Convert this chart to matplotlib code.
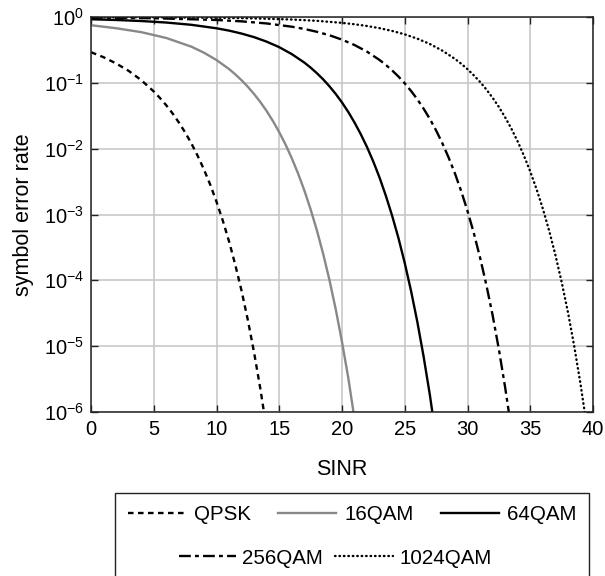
import matplotlib
matplotlib.use("Agg")
import matplotlib.pyplot as plt
from matplotlib.patches import Rectangle
from matplotlib.ticker import NullLocator, FixedLocator

plt.rcParams['font.family'] = ['Liberation Sans', 'DejaVu Sans']
plt.rcParams['mathtext.fontset'] = 'custom'
plt.rcParams['mathtext.rm'] = 'Liberation Sans'
plt.rcParams['mathtext.default'] = 'regular'
plt.rcParams['lines.scale_dashes'] = False

# ---- data ----
qpsk_x = [0, 1, 2, 3, 4, 5, 5.5, 6, 6.5, 7, 7.5, 8, 8.5, 9, 9.5, 10, 10.5, 11,
          11.5, 12, 12.5, 13, 13.5, 14]
qpsk_y = [0.292, 0.245, 0.197, 0.152, 0.110, 0.074, 0.0587, 0.0455, 0.0343,
          0.0250, 0.01766, 0.0120, 0.00778, 0.00483, 0.00284, 1.56e-3, 8.1e-4,
          3.9e-4, 1.71e-4, 6.9e-5, 2.48e-5, 7.9e-6, 2.22e-6, 5.4e-7]

qam16_x = [0, 2, 4, 6, 8, 9, 10, 11, 11.5, 12, 12.5, 13, 13.5, 14, 14.5, 15,
           15.5, 16, 16.5, 17, 17.5, 18, 18.5, 19, 19.5, 20, 20.5, 21]
qam16_y = [0.75, 0.675, 0.589, 0.480, 0.354, 0.287, 0.222, 0.162, 0.1344,
           0.1094, 0.0870, 0.0674, 0.0509, 0.0372, 0.0262, 0.01778, 0.01155,
           0.00715, 0.0042, 2.32e-3, 1.196e-3, 5.73e-4, 2.52e-4, 1.01e-4,
           3.64e-5, 1.16e-5, 3.3e-6, 7.8e-7]

qam64_x = [0, 2, 4, 6, 8, 10, 11, 12, 13, 14, 15, 16, 17, 17.5, 18, 18.5, 19,
           19.5, 20, 20.5, 21, 21.5, 22, 22.5, 23, 23.5, 24, 24.5, 25, 25.5, 26,
           26.5, 27, 27.5, 28]
qam64_y = [0.924, 0.901, 0.869, 0.824, 0.761, 0.674, 0.621, 0.560, 0.494,
           0.422, 0.348, 0.273, 0.203, 0.1703, 0.140, 0.1129, 0.0886, 0.0678,
           0.0503, 0.0361, 0.0249, 0.01653, 0.01051, 0.00633, 3.6e-3, 1.91e-3,
           9.5e-4, 4.37e-4, 1.83e-4, 6.93e-5, 2.35e-5, 7.0e-6, 1.82e-6, 4.0e-7,
           7.3e-8]

qam256_x = [0, 5, 10, 12, 14, 16, 17, 18, 19, 20, 21, 22, 23, 23.5, 24, 24.5,
            25, 25.5, 26, 26.5, 27, 27.5, 28, 28.5, 29, 29.5, 30, 30.5, 31,
            31.5, 32, 32.5, 33, 33.5, 34]
qam256_y = [0.980, 0.958, 0.901, 0.859, 0.798, 0.712, 0.658, 0.596, 0.528,
            0.453, 0.375, 0.297, 0.222, 0.1866, 0.154, 0.1245, 0.0983, 0.0754,
            0.0563, 0.0406, 0.0283, 0.0189, 0.01203, 0.0073, 4.2e-3, 2.256e-3,
            1.13e-3, 5.25e-4, 2.22e-4, 8.55e-5, 2.96e-5, 8.96e-6, 2.36e-6,
            5.4e-7, 1.0e-7]

qam1024_x = [0, 5, 10, 13, 16, 18, 20, 21, 22, 23, 24, 25, 26, 27, 28, 29,
             29.5, 30, 30.5, 31, 31.5, 32, 32.5, 33, 33.5, 34, 34.5, 35, 35.5,
             36, 36.5, 37, 37.5, 38, 38.5, 39, 39.5, 40]
qam1024_y = [0.995, 0.99, 0.973, 0.953, 0.916, 0.875, 0.815, 0.776, 0.730,
             0.676, 0.614, 0.545, 0.469, 0.389, 0.308, 0.231, 0.1948, 0.161,
             0.1302, 0.1031, 0.0794, 0.0593, 0.0430, 0.0299, 0.02006, 0.01284,
             0.0078, 4.5e-3, 2.43e-3, 1.23e-3, 5.74e-4, 2.44e-4, 9.46e-5,
             3.3e-5, 1.01e-5, 2.7e-6, 6.2e-7, 1.2e-7]

labels = ['QPSK', '16QAM', '64QAM', '256QAM', '1024QAM']
x_ticks = [0, 5, 10, 15, 20, 25, 30, 35, 40]
y_ticks = [1e-6, 1e-5, 1e-4, 1e-3, 1e-2, 1e-1, 1e0]

fig = plt.figure(figsize=(6.05, 5.76), dpi=100)
ax = fig.add_axes([91/605, 1 - 412/576, (593 - 91)/605, (412 - 17)/576])

fs_tick = 14.5
fs_lab = 15.5
fs_leg = 14.8
lw = 1.7
l1, = ax.semilogy(qpsk_x, qpsk_y, color='black', lw=lw,
                  linestyle=(0, (4.0, 3.2)), label=labels[0])
l2, = ax.semilogy(qam16_x, qam16_y, color='#888888', lw=lw, label=labels[1])
l3, = ax.semilogy(qam64_x, qam64_y, color='black', lw=lw, label=labels[2])
l4, = ax.semilogy(qam256_x, qam256_y, color='black', lw=lw,
                  linestyle=(0, (8.5, 3.0, 2.8, 3.0)), label=labels[3])
l5, = ax.semilogy(qam1024_x, qam1024_y, color='black', lw=1.7,
                  linestyle=(0, (0.4, 2.8)), dash_capstyle='round',
                  label=labels[4])

ax.set_xlim(0, 40)
ax.set_ylim(1e-6, 1)
ax.xaxis.set_major_locator(FixedLocator(x_ticks))
ax.yaxis.set_major_locator(FixedLocator(y_ticks))
ax.yaxis.set_minor_locator(NullLocator())
ax.grid(True, which='major', color='#c8c8c8', lw=1.2)
ax.set_axisbelow(True)
ax.tick_params(direction='in', top=True, right=True, length=5, width=1.0,
               labelsize=fs_tick, pad=6, color='#222222')
ax.tick_params(axis='y', pad=5)
for s in ax.spines.values():
    s.set_linewidth(1.1)
    s.set_color('#222222')

ax.set_xlabel('SINR', fontsize=fs_lab, labelpad=14)
ax.set_ylabel('symbol error rate', fontsize=fs_lab, labelpad=7)

# legend rows
leg1 = fig.legend(handles=[l1, l2, l3], loc='center', ncol=3, frameon=False,
                  fontsize=fs_leg, handlelength=2.8, handletextpad=0.4,
                  columnspacing=1.35, bbox_to_anchor=(352/605, 1 - 515/576))
leg2 = fig.legend(handles=[l4, l5], loc='center', ncol=2, frameon=False,
                  fontsize=fs_leg, handlelength=2.8, handletextpad=0.3,
                  columnspacing=0.6, bbox_to_anchor=(335/605, 1 - 558/576))
fig.add_artist(Rectangle((115/605, -0.05), (589 - 115)/605, (0.05 + 1 - 493/576),
                         transform=fig.transFigure, fill=False,
                         edgecolor='#222222', lw=1.0))

fig.savefig('out.png', dpi=100)
